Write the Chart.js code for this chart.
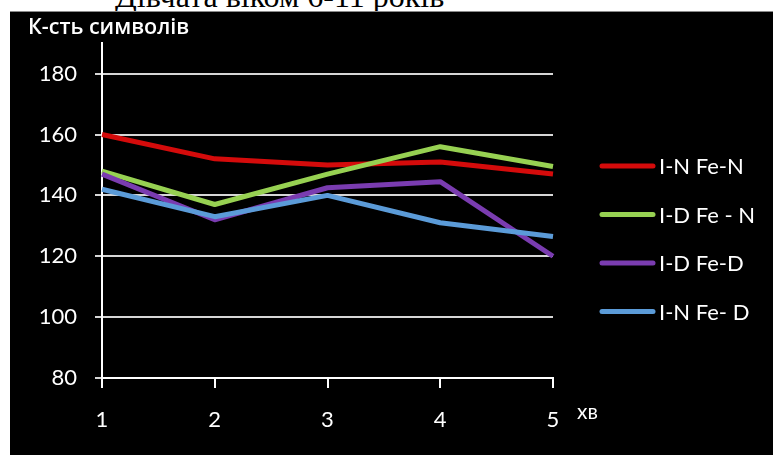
<!DOCTYPE html>
<html lang="uk">
<head>
<meta charset="utf-8">
<script src="https://cdn.jsdelivr.net/npm/chart.js@4/dist/chart.umd.min.js"></script>
<style>
  html, body { margin: 0; padding: 0; background: #fff; width: 773px; height: 456px; overflow: hidden; }
  #caption {
    position: absolute; left: 115px; top: -20px;
    font-family: "Liberation Serif", "Times New Roman", serif; font-size: 32px; line-height: 32px;
    color: #000; white-space: nowrap;
  }
  #panel {
    position: absolute; left: 10px; top: 11px; width: 763px; height: 443px;
    background: #000; border-top: 1px solid #8a8a8a;
  }
  #panel canvas { display: block; }
</style>
</head>
<body>
<div id="caption">Дівчата віком 6-11 років</div>
<div id="panel"><canvas id="chart" width="763" height="443"></canvas></div>
<script>
// Minutes of the test
const minutes = ['1', '2', '3', '4', '5'];

// Symbols processed per minute, one array per group
const seriesNames = ['I-N Fe-N', 'I-D Fe - N', 'I-D Fe-D', 'I-N Fe- D'];
const inFeN = [160, 152, 150, 151, 147];
const idFeN = [148, 137, 147, 156, 149.5];
const idFeD = [147, 132, 142.5, 144.5, 120];
const inFeD = [142, 133, 140, 131, 126.5];

const yTicks = [80, 100, 120, 140, 160, 180];

const colors = ['#d40b0b', '#97d152', '#7a3cb0', '#5b9bd8'];
const values = [inFeN, idFeN, idFeD, inFeD];

const FONT = 'Lato, "Open Sans", sans-serif';

// Axis caption, unit label and the legend on the right
const decorations = {
  id: 'decorations',
  afterDraw(chart) {
    const ctx = chart.ctx;
    const area = chart.chartArea;
    ctx.save();
    ctx.fillStyle = '#ffffff';
    ctx.textBaseline = 'middle';

    ctx.font = '600 21.5px "Open Sans", ' + FONT;
    ctx.textAlign = 'left';
    ctx.fillText('К-сть символів', 18, 16);

    ctx.font = '21px ' + FONT;
    ctx.fillText('хв', area.right + 24, area.bottom + 34);

    const x0 = area.right + 49;
    const lineLen = 51;
    const y0 = 154;
    const step = 48.5;
    ctx.font = '22px ' + FONT;
    chart.data.datasets.forEach((ds, i) => {
      const y = y0 + i * step;
      ctx.strokeStyle = ds.borderColor;
      ctx.lineWidth = 5;
      ctx.lineCap = 'round';
      ctx.beginPath();
      ctx.moveTo(x0, y);
      ctx.lineTo(x0 + lineLen, y);
      ctx.stroke();
      ctx.fillStyle = '#ffffff';
      ctx.fillText(ds.label, x0 + lineLen + 6, y + 1);
    });
    ctx.restore();
  }
};

new Chart(document.getElementById('chart'), {
  type: 'line',
  data: {
    labels: minutes,
    datasets: seriesNames.map((name, i) => ({
      label: name,
      data: values[i],
      borderColor: colors[i],
      backgroundColor: colors[i],
      borderWidth: 5,
      pointRadius: 0,
      tension: 0,
      borderJoinStyle: 'round',
      order: seriesNames.length - i
    }))
  },
  options: {
    responsive: false,
    animation: false,
    layout: { padding: { left: 0, top: 28, right: 220, bottom: 0 } },
    plugins: {
      legend: { display: false },
      tooltip: { enabled: false }
    },
    scales: {
      x: {
        type: 'category',
        offset: false,
        grid: { display: true, drawOnChartArea: false, color: '#ffffff', lineWidth: 2, tickLength: 10 },
        border: { display: true, color: '#ffffff', width: 2 },
        ticks: { color: '#ffffff', font: { family: FONT, size: 22 }, padding: 19, maxRotation: 0 },
        afterFit(scale) { scale.height = 77; }
      },
      y: {
        min: 80,
        max: 190,
        afterBuildTicks(scale) { scale.ticks = yTicks.map(v => ({ value: v })); },
        grid: { color: '#d6d6d6', lineWidth: 2, tickLength: 7 },
        border: { display: true, color: '#ffffff', width: 2 },
        ticks: { color: '#ffffff', font: { family: FONT, size: 22 }, padding: 18 },
        afterFit(scale) { scale.width = 92; }
      }
    }
  },
  plugins: [decorations]
});
</script>
</body>
</html>
